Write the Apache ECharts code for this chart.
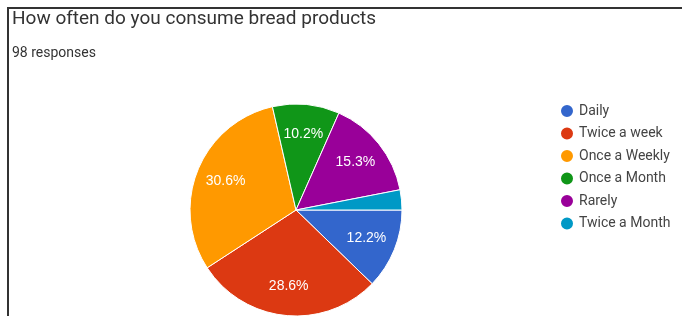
<!DOCTYPE html>
<html lang="en">
<head>
    <meta charset="UTF-8">
    <title>How often do you consume bread products</title>
    <script src="https://cdn.jsdelivr.net/npm/echarts@6/dist/echarts.min.js"></script>
    <style>
        html, body {
            margin: 0;
            padding: 0;
            background: #fff;
        }

        .wrap {
            position: relative;
            width: 682px;
            height: 316px;
            overflow: hidden;
        }

        #chart {
            width: 682px;
            height: 316px;
        }

        .frame {
            position: absolute;
            left: 7px;
            top: 7px;
            width: 700px;
            height: 400px;
            border-left: 2px solid #333;
            border-top: 2px solid #333;
            pointer-events: none;
        }
    </style>
</head>
<body>
    <div class="wrap">
        <div id="chart"></div>
        <div class="frame"></div>
    </div>
    <script>
        // answers, in the order the form lists them
        const categories = ['Daily', 'Twice a week', 'Once a Weekly', 'Once a Month', 'Rarely', 'Twice a Month'];
        const responses = [12, 28, 30, 10, 15, 3];
        const colors = ['#3366cc', '#dc3912', '#ff9900', '#109618', '#990099', '#0099c6'];

        const total = responses.reduce(function (a, b) { return a + b; }, 0);
        const pieData = categories.map(function (name, i) {
            return { name: name, value: responses[i] };
        });

        const chart = echarts.init(document.getElementById('chart'));
        chart.setOption({
            animation: false,
            color: colors,
            title: [
                {
                    text: 'How often do you consume bread products',
                    left: 12,
                    top: 10,
                    padding: 0,
                    textStyle: { fontFamily: 'Roboto', fontSize: 19, fontWeight: 'normal', color: '#333' }
                },
                {
                    text: total + ' responses',
                    left: 12,
                    top: 46,
                    padding: 0,
                    textStyle: { fontFamily: 'Roboto', fontSize: 14, fontWeight: 'normal', color: '#333' }
                }
            ],
            legend: {
                orient: 'vertical',
                left: 559,
                top: 103,
                padding: 0,
                icon: 'circle',
                itemWidth: 14,
                itemHeight: 14,
                itemGap: 6.5,
                selectedMode: false,
                data: categories,
                textStyle: { fontFamily: 'Roboto', fontSize: 14, lineHeight: 16, color: '#444' }
            },
            series: [
                {
                    type: 'pie',
                    center: [296, 210],
                    radius: 106,
                    startAngle: 0,
                    clockwise: true,
                    avoidLabelOverlap: false,
                    label: { show: false },
                    labelLine: { show: false },
                    emphasis: { disabled: true },
                    itemStyle: { borderColor: '#fff', borderWidth: 1 },
                    data: pieData
                },
                {
                    // transparent copy, only to place the percentage labels further out
                    type: 'pie',
                    center: [296, 210],
                    radius: [40, 106],
                    startAngle: 0,
                    clockwise: true,
                    silent: true,
                    avoidLabelOverlap: false,
                    itemStyle: { color: 'transparent', borderWidth: 0 },
                    emphasis: { disabled: true },
                    labelLine: { show: false },
                    label: {
                        show: true,
                        position: 'inside',
                        color: '#fff',
                        fontFamily: 'Arial',
                        fontSize: 14,
                        formatter: function (p) {
                            const pct = p.value / total * 100;
                            return pct < 5 ? '' : pct.toFixed(1) + '%';
                        }
                    },
                    data: pieData
                }
            ]
        });
    </script>
</body>
</html>
